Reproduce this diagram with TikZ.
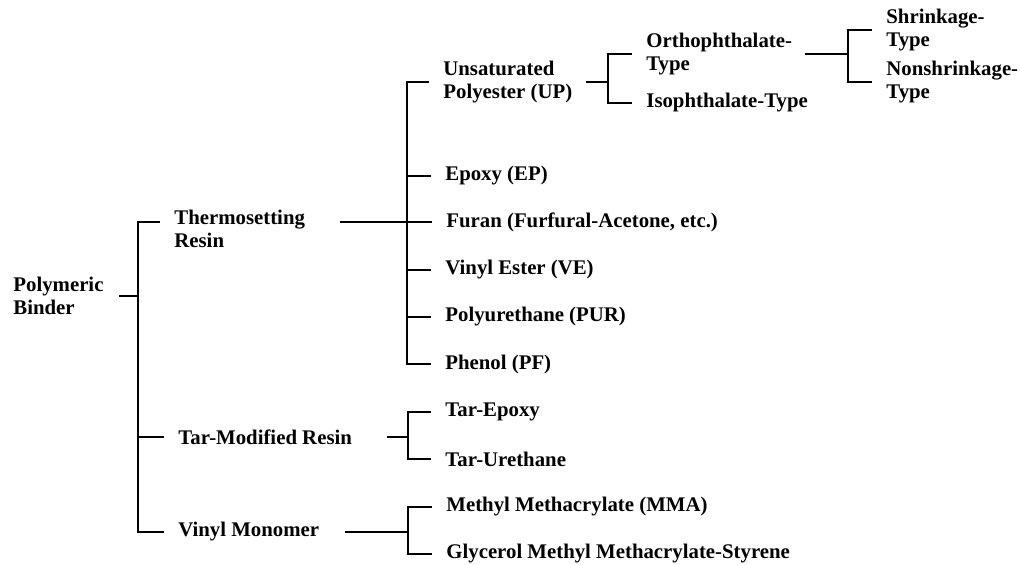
\documentclass[tikz,border=0pt]{standalone}
\usepackage{fontspec}
\setmainfont{Liberation Serif}
\tikzset{
  every picture/.style={color=black, line width=1.4pt, font=\bfseries\fontsize{10.4}{11.2}\selectfont},
  item/.style={anchor=west, inner sep=0pt, align=left},
  brk/.style={shorten <=6.5pt, shorten >=6.5pt},
  twig/.style={shorten >=6.5pt},
}
\begin{document}
\begin{tikzpicture}[x=0.5pt, y=-0.5pt]
  \useasboundingbox (0,0) rectangle (1020,564);
  \begin{scope}
    \node[item] (up) at (442,82) {Unsaturated\\Polyester (UP)};
    \node[item] (epoxy) at (444,176) {Epoxy (EP)};
    \node[item] (furan) at (445,222) {Furan (Furfural-Acetone, etc.)};
    \node[item] (ve) at (444,270) {Vinyl Ester (VE)};
    \node[item] (pur) at (444,317) {Polyurethane (PUR)};
    \node[item] (pf) at (444,364) {Phenol (PF)};
    \coordinate (j2) at (407,222);
    \draw[brk] (up.west) -| (j2) |- (pf.west);
    \foreach \n in {epoxy,ve,pur}
      \draw[twig] (j2 |- \n.west) -- (\n.west);
  \end{scope}
  \begin{scope}
    \node[item] (binder) at (12,296) {Polymeric\\Binder};
    \node[item] (thermo) at (173,229) {Thermosetting\\Resin};
    \node[item] (tarmod) at (177,437) {Tar-Modified Resin};
    \node[item] (vinylmono) at (177,532) {Vinyl Monomer};
    \coordinate (j1) at (138,296);
    \draw[shorten <=7pt] (binder.east |- j1) -- (j1);
    \draw[brk] (thermo.west |- j2) -| (j1) |- (vinylmono.west);
    \draw[twig] (j1 |- tarmod.west) -- (tarmod.west);
    \draw[shorten <=17pt, shorten >=6.5pt] (thermo.east |- furan.west) -- (furan.west);
  \end{scope}
  \begin{scope}
    \node[item] (tarep) at (444,412) {Tar-Epoxy};
    \node[item] (tarur) at (444,459) {Tar-Urethane};
    \coordinate (j3) at (408,437);
    \draw[shorten <=17pt] (tarmod.east) -- (j3);
    \draw[brk] (tarep.west) -| (j3) |- (tarur.west);
  \end{scope}
  \begin{scope}
    \node[item] (mma) at (445,507) {Methyl Methacrylate (MMA)};
    \node[item] (gmms) at (445,554) {Glycerol Methyl Methacrylate-Styrene};
    \coordinate (j4) at (408,532);
    \draw[shorten <=12pt] (vinylmono.east) -- (j4);
    \draw[brk] (mma.west) -| (j4) |- (gmms.west);
  \end{scope}
  \begin{scope}
    \node[item] (ortho) at (645,54) {Orthophthalate-\\Type};
    \node[item] (iso) at (645,103) {Isophthalate-Type};
    \coordinate (j5) at (608,82);
    \draw[shorten <=6pt] (up.east) -- (j5);
    \draw[brk] (ortho.west) -| (j5) |- (iso.west);
  \end{scope}
  \begin{scope}
    \node[item] (shrink) at (885,30) {Shrinkage-\\Type};
    \node[item] (nonshrink) at (885,82) {Nonshrinkage-\\Type};
    \coordinate (j6) at (848,54);
    \draw[shorten <=6pt] (ortho.east) -- (j6);
    \draw[brk] (shrink.west) -| (j6) |- (nonshrink.west);
  \end{scope}
\end{tikzpicture}
\end{document}
